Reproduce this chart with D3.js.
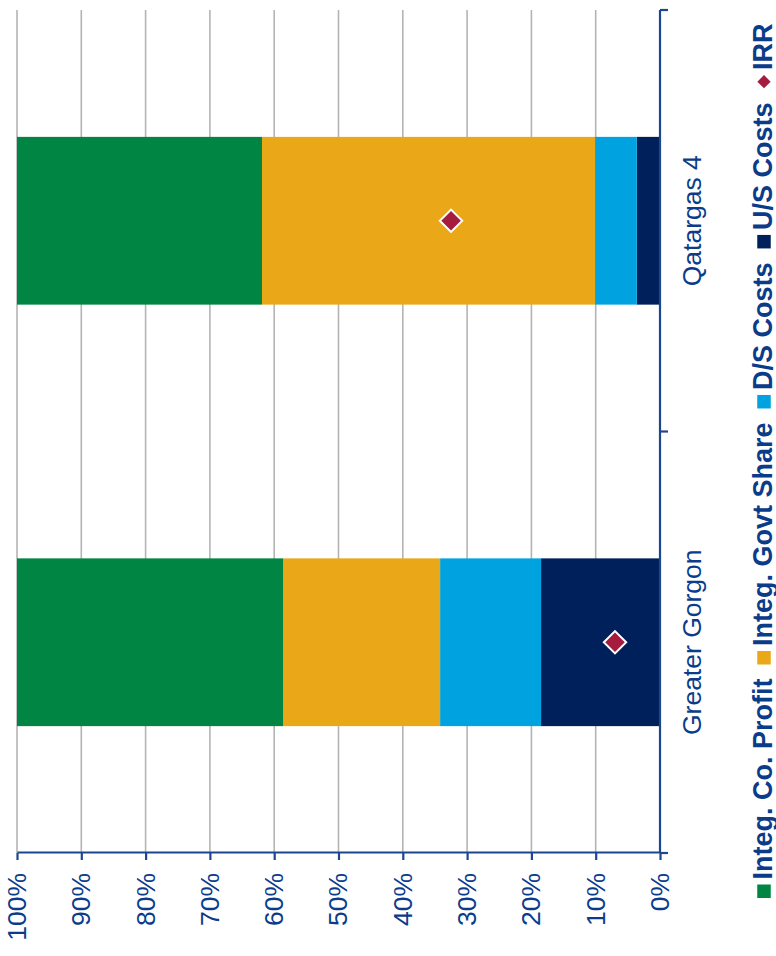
<!DOCTYPE html>
<html><head><meta charset="utf-8">
<script src="https://cdn.jsdelivr.net/npm/d3@7"></script>
<style>
html,body{margin:0;padding:0;background:#fff;}
svg{display:block;font-family:"Liberation Sans",Arial,sans-serif;}
</style></head>
<body>
<svg id="chart" width="776" height="956"></svg>
<script>
// ---- data ----
const categories = ["Greater Gorgon", "Qatargas 4"];
const usCosts   = [0.185, 0.036];
const dsCosts   = [0.157, 0.065];
const govtShare = [0.244, 0.518];
const coProfit  = [0.414, 0.381];
const irr       = [0.070, 0.325];
const tickValues = [0, 0.1, 0.2, 0.3, 0.4, 0.5, 0.6, 0.7, 0.8, 0.9, 1.0];
const stackKeys = ["U/S Costs", "D/S Costs", "Integ. Govt Share", "Integ. Co. Profit"];
const legendItems = ["Integ. Co. Profit", "Integ. Govt Share", "D/S Costs", "U/S Costs", "IRR"];

// ---- styles ----
const colors = {
  "Integ. Co. Profit": "#008542",
  "Integ. Govt Share": "#EAA819",
  "D/S Costs": "#00A3E0",
  "U/S Costs": "#00205C",
  "IRR": "#A51C3F"
};
const textColor = "#0B3C8A";
const axisColor = "#1B4690";
const gridColor = "#B4B4B4";

const rows = categories.map((c, i) => ({
  category: c,
  "U/S Costs": usCosts[i],
  "D/S Costs": dsCosts[i],
  "Integ. Govt Share": govtShare[i],
  "Integ. Co. Profit": coProfit[i],
  irr: irr[i]
}));

const svg = d3.select("#chart");
// Draw the chart upright, then rotate it -90 degrees.
const g = svg.append("g").attr("transform", "translate(0,956) rotate(-90)");

const x = d3.scaleBand().domain(categories).range([103, 946]).padding(0);
const barW = x.bandwidth() * 0.398;
const y = d3.scaleLinear().domain([0, 1]).range([660, 17]);

// gridlines
g.append("g").selectAll("line").data(tickValues.filter(t => t > 0)).join("line")
  .attr("x1", x.range()[0]).attr("x2", x.range()[1])
  .attr("y1", d => y(d)).attr("y2", d => y(d))
  .attr("stroke", gridColor).attr("stroke-width", 1.6);

// stacked bars
const stacked = d3.stack().keys(stackKeys)(rows);
g.append("g").selectAll("g").data(stacked).join("g")
  .attr("fill", s => colors[s.key])
  .selectAll("rect").data(s => s).join("rect")
  .attr("x", d => x(d.data.category) + (x.bandwidth() - barW) / 2)
  .attr("width", barW)
  .attr("y", d => y(d[1]))
  .attr("height", d => y(d[0]) - y(d[1]));

// value axis
const yAxis = d3.axisLeft(y).tickValues(tickValues).tickFormat(d3.format(".0%"))
  .tickSize(7).tickSizeOuter(0).tickPadding(13);
const ya = g.append("g").attr("transform", `translate(${x.range()[0]},0)`).call(yAxis);
ya.select(".domain").attr("stroke", axisColor).attr("stroke-width", 2.2);
ya.selectAll(".tick line").attr("stroke", axisColor).attr("stroke-width", 2.2);
ya.selectAll(".tick text").attr("fill", textColor).attr("font-size", 26.5)
  .attr("font-family", "Liberation Sans, Arial, sans-serif");

// category axis (ticks at band boundaries)
const xa = g.append("g");
xa.append("line").attr("x1", x.range()[0]).attr("x2", x.range()[1])
  .attr("y1", y(0)).attr("y2", y(0)).attr("stroke", axisColor).attr("stroke-width", 2.2);
const bounds = [x.range()[0]].concat(categories.map(c => x(c) + x.bandwidth()));
xa.selectAll("line.tk").data(bounds).join("line").attr("class", "tk")
  .attr("x1", d => d).attr("x2", d => d)
  .attr("y1", y(0)).attr("y2", y(0) + 8)
  .attr("stroke", axisColor).attr("stroke-width", 2.2);
xa.selectAll("text").data(categories).join("text")
  .attr("x", d => x(d) + x.bandwidth() / 2).attr("y", y(0) + 41)
  .attr("text-anchor", "middle").attr("fill", textColor).attr("font-size", 26.5)
  .text(d => d);

// IRR diamonds
const diamond = d3.symbol(d3.symbolSquare, 250);
g.append("g").selectAll("path").data(rows).join("path")
  .attr("d", diamond)
  .attr("transform", d => `translate(${x(d.category) + x.bandwidth() / 2},${y(d.irr)}) rotate(45)`)
  .attr("fill", colors["IRR"]).attr("stroke", "#fff").attr("stroke-width", 2);

// legend
const leg = g.append("g");
let lx = 58;
const sq = 13.5, ly = 764;
legendItems.forEach(name => {
  if (name === "IRR") {
    leg.append("path").attr("d", d3.symbol(d3.symbolSquare, 88)())
      .attr("transform", `translate(${lx + sq / 2},${ly}) rotate(45)`)
      .attr("fill", colors[name]);
  } else {
    leg.append("rect").attr("x", lx).attr("y", ly - sq / 2).attr("width", sq).attr("height", sq)
      .attr("fill", colors[name]);
  }
  const t = leg.append("text").attr("x", lx + sq + 5).attr("y", 771.5)
    .attr("font-size", 27).attr("font-weight", "bold").attr("fill", textColor).text(name);
  lx += sq + 5 + t.node().getComputedTextLength() + 14;
});
</script>
</body></html>
